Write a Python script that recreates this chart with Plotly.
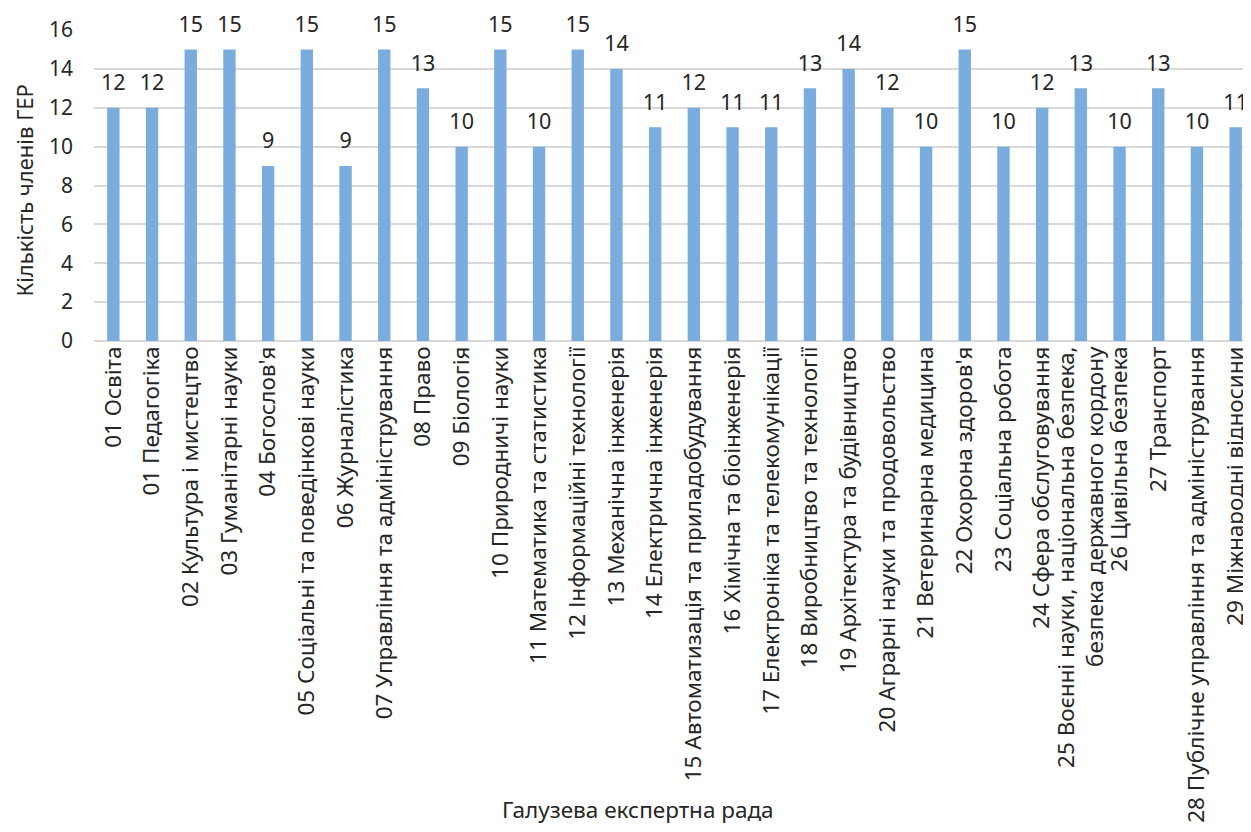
import plotly.graph_objects as go

categories = [
    "01 Освіта", "01 Педагогіка", "02 Культура і мистецтво", "03 Гуманітарні науки",
    "04 Богослов'я", "05 Соціальні та поведінкові науки", "06 Журналістика",
    "07 Управління та адміністрування", "08 Право", "09 Біологія", "10 Природничі науки",
    "11 Математика та статистика", "12 Інформаційні технології", "13 Механічна інженерія",
    "14 Електрична інженерія", "15 Автоматизація та приладобудування",
    "16 Хімічна та біоінженерія", "17 Електроніка та телекомунікації",
    "18 Виробництво та технології", "19 Архітектура та будівництво",
    "20 Аграрні науки та продовольство", "21 Ветеринарна медицина", "22 Охорона здоров'я",
    "23 Соціальна робота", "24 Сфера обслуговування",
    "25 Воєнні науки, національна безпека,<br>безпека державного кордону",
    "26 Цивільна безпека", "27 Транспорт", "28 Публічне управління та адміністрування",
    "29 Міжнародні відносини",
]
values = [12, 12, 15, 15, 9, 15, 9, 15, 13, 10, 15, 10, 15, 14, 11, 12, 11, 11, 13, 14,
          12, 10, 15, 10, 12, 13, 10, 13, 10, 11]
y_ticks = [0, 2, 4, 6, 8, 10, 12, 14, 16]

font_family = "Noto Sans, Open Sans, sans-serif"
text_color = "#262626"

fig = go.Figure()
fig.add_trace(go.Bar(
    x=categories, y=values,
    marker=dict(color="#7aacdd", line=dict(width=0)),
    width=0.32,
))
fig.add_trace(go.Scatter(
    x=categories, y=values, mode="markers+text",
    marker=dict(size=18, opacity=0),
    text=[str(v) for v in values], textposition="top center",
    textfont=dict(size=21.5, color=text_color, family=font_family),
    cliponaxis=False, hoverinfo="skip",
))

fig.update_layout(
    width=1251, height=832,
    margin=dict(l=86, r=4, t=22, b=499),
    paper_bgcolor="white", plot_bgcolor="white",
    font=dict(family=font_family, color=text_color, size=21),
    showlegend=False,
    xaxis=dict(
        tickangle=-90, tickfont=dict(size=22.5, color=text_color),
        showgrid=False, showline=False, ticks="",
        automargin=False, range=[-0.5, 29.5],
    ),
    yaxis=dict(
        range=[0, 16], tickvals=y_ticks, showgrid=True, gridcolor="#d9d9d9", gridwidth=1.5,
        zeroline=True, zerolinecolor="#d9d9d9", zerolinewidth=1.5,
        tickfont=dict(size=21, color=text_color), ticklabelstandoff=20,
        automargin=False,
    ),
    annotations=[
        dict(text="Галузева експертна рада", xref="paper", yref="paper",
             x=0.4686, y=-1.508, xanchor="center", yanchor="middle", showarrow=False,
             font=dict(size=22.5, color=text_color)),
        dict(text="Кількість членів ГЕР", xref="paper", yref="paper",
             x=-0.0605, y=0.486, xanchor="center", yanchor="middle", showarrow=False,
             textangle=-90, font=dict(size=22, color=text_color)),
    ],
)

fig.write_html("out.html")
